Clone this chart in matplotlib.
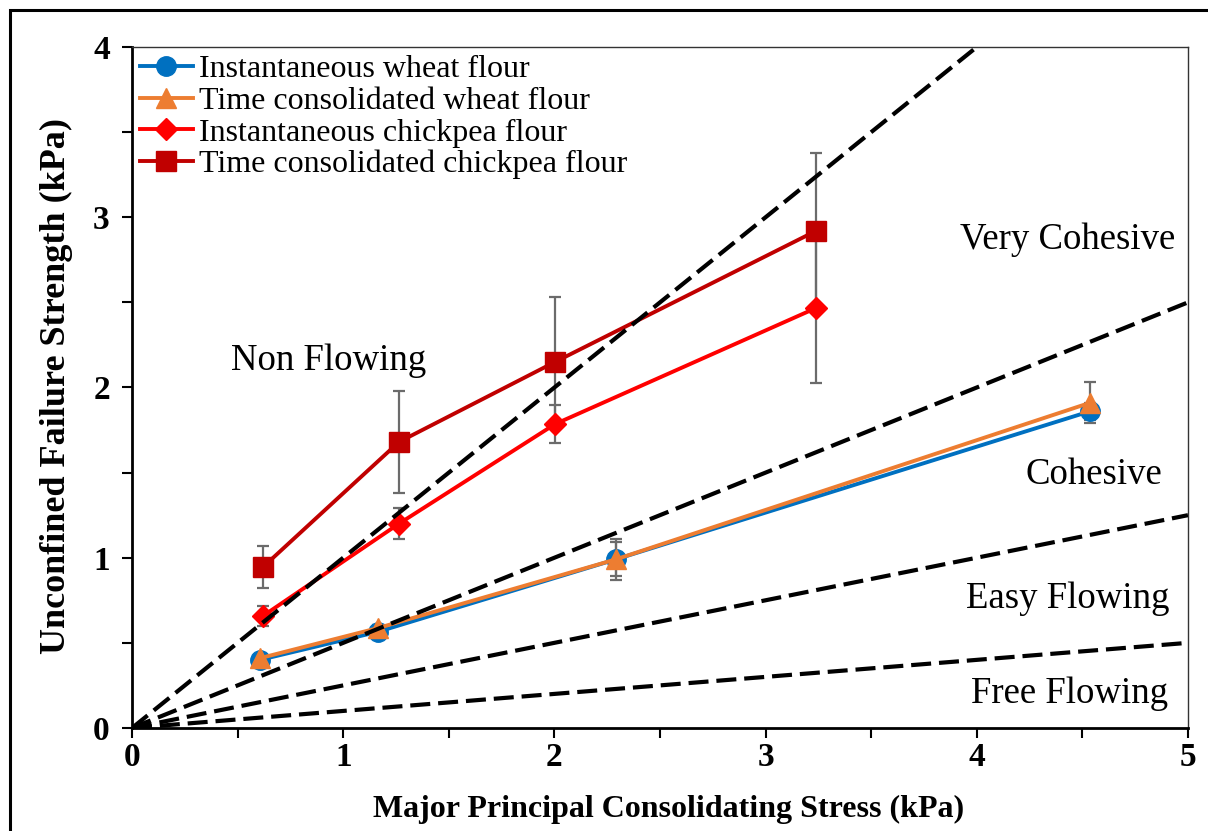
import numpy as np
import matplotlib
matplotlib.use("Agg")
import matplotlib.pyplot as plt
from matplotlib.patches import Rectangle
from matplotlib.ticker import MultipleLocator

plt.rcParams["font.family"] = ["Liberation Serif", "DejaVu Serif"]

# flowability boundaries: sigma_c = sigma_1 / ffc
ffc_bounds = [1, 2, 4, 10]
region_names = ["Non Flowing", "Very Cohesive", "Cohesive", "Easy Flowing", "Free Flowing"]
region_xy = [(0.93, 2.16), (4.43, 2.87), (4.555, 1.49), (4.43, 0.76), (4.44, 0.20)]

# wheat flour
wheat_x = [0.606, 1.165, 2.29, 4.536]
wheat_inst = [0.40, 0.565, 0.99, 1.86]
wheat_inst_err = [0.02, 0.02, 0.10, 0.05]
wheat_tc = [0.41, 0.587, 0.99, 1.91]
wheat_tc_err = [0.02, 0.02, 0.12, 0.12]

# chickpea flour
chick_x = [0.62, 1.264, 2.003, 3.239]
chick_inst = [0.658, 1.20, 1.785, 2.467]
chick_inst_err = [0.06, 0.09, 0.11, 0.44]
chick_tc = [0.945, 1.68, 2.15, 2.92]
chick_tc_err = [0.125, 0.30, 0.38, 0.46]

series = [
    ("Instantaneous wheat flour", wheat_x, wheat_inst, wheat_inst_err, "#0070C0", "o", 14),
    ("Time consolidated wheat flour", wheat_x, wheat_tc, wheat_tc_err, "#ED7D31", "^", 15),
    ("Instantaneous chickpea flour", chick_x, chick_inst, chick_inst_err, "#FF0000", "D", 11),
    ("Time consolidated chickpea flour", chick_x, chick_tc, chick_tc_err, "#C00000", "s", 14),
]

fig = plt.figure(figsize=(12.08, 8.31), dpi=100)
ax = fig.add_axes([0.1093, 0.1240, 0.8741, 0.8194])

for lab, xs, ys, err, col, mk, ms in series:
    ax.errorbar(xs, ys, yerr=err, fmt="none", ecolor="#6b6b6b", elinewidth=1.6,
                capsize=4.5, capthick=1.6, zorder=2)
    ax.plot(xs, ys, color=col, lw=2.8, marker=mk, ms=ms, mec=col, mfc=col,
            label=lab, zorder=3)

xx = np.array([0.0, 5.0])
for f in ffc_bounds:
    ax.plot(xx, xx / f, color="black", lw=3, dashes=(4.8, 1.9), zorder=4)

for name, (tx, ty) in zip(region_names, region_xy):
    ax.text(tx, ty, name, ha="center", va="center", fontsize=26.5)

ax.set_xlim(0, 5)
ax.set_ylim(0, 4)
ax.xaxis.set_major_locator(MultipleLocator(1))
ax.xaxis.set_minor_locator(MultipleLocator(0.5))
ax.yaxis.set_major_locator(MultipleLocator(1))
ax.yaxis.set_minor_locator(MultipleLocator(0.5))
ax.tick_params(which="both", direction="out", length=7, width=1.5, labelsize=24)
ax.tick_params(axis="x", pad=3)
ax.tick_params(axis="y", pad=9)
for t in ax.get_xticklabels() + ax.get_yticklabels():
    t.set_fontweight("bold")

for s in ["left", "bottom"]:
    ax.spines[s].set_linewidth(2.0)
for s in ["top", "right"]:
    ax.spines[s].set_linewidth(1.0)
    ax.spines[s].set_color("#333333")

ax.set_xlabel("Major Principal Consolidating Stress (kPa)", fontsize=23,
              fontweight="bold", labelpad=12)
ax.xaxis.set_label_coords(0.508, -0.098)
ax.set_ylabel("Unconfined Failure Strength (kPa)", fontsize=26,
              fontweight="bold")
ax.yaxis.set_label_coords(-0.056, 0.502)

ax.legend(loc="upper left", frameon=False, fontsize=23, labelspacing=0.07,
          handlelength=1.65, handletextpad=0.2, borderaxespad=0.05,
          borderpad=0.2)

top = 1 - 10 / 831
fig.add_artist(Rectangle((10 / 1208, -0.2), 1.2, top + 0.2,
                         transform=fig.transFigure, fill=False,
                         edgecolor="black", lw=2.2))

fig.savefig("out.png", dpi=100, facecolor="white")
